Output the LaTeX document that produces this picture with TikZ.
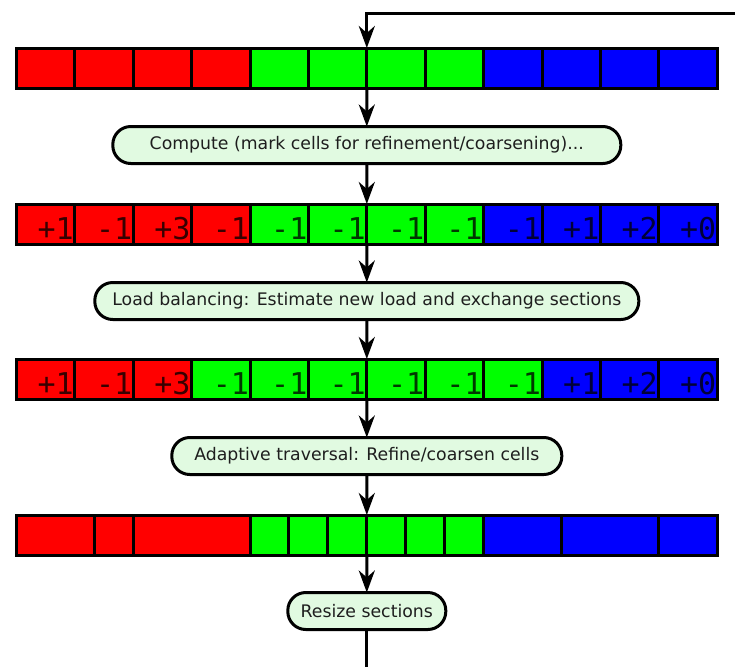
\documentclass[tikz,border=0pt]{standalone}
\usepackage{fontspec}
\setmainfont{DejaVu Sans}
\newfontfamily\cellfont{DejaVu Sans Mono}
\usetikzlibrary{arrows.meta}
\definecolor{pillgreen}{RGB}{225,250,225}
\definecolor{pilltext}{RGB}{30,30,30}
\definecolor{cellred}{RGB}{255,0,0}
\definecolor{cellgreen}{RGB}{0,255,0}
\definecolor{cellblue}{RGB}{0,0,255}
\begin{document}
\begin{tikzpicture}[x=1pt,y=-1pt,
  barframe/.style={draw, line width=3pt, minimum width=700.8pt, minimum height=40pt,
    inner sep=0pt, outer sep=0pt, anchor=north west},
  divider/.style={line width=3pt},
  pill/.style={draw, line width=3pt, rectangle, rounded corners=18pt, fill=pillgreen,
    minimum height=37pt, inner sep=0pt, outer sep=0pt, text=pilltext,
    font=\fontsize{17.3}{19}\selectfont},
  flow/.style={line width=3pt, -{Stealth[length=22pt,width=16pt,inset=7pt]}},
  num/.style={font=\cellfont\fontsize{30}{30}\selectfont, text opacity=0.78,
    anchor=base east, inner sep=0pt}
]
\useasboundingbox (0,0) rectangle (735,667);

% ---- bar 1: four cells per section ----
\begin{scope}[shift={(16.4,48)}, x=58.4pt]
  \fill[cellred]   (0,0) rectangle (4,40);
  \fill[cellgreen] (4,0) rectangle (8,40);
  \fill[cellblue]  (8,0) rectangle (12,40);
  \foreach \i in {1,...,11} \draw[divider] (\i,0) -- (\i,40);
\end{scope}
\node[barframe] (b1) at (16.4,48) {};

% ---- bar 2: refinement marks ----
\begin{scope}[shift={(16.4,204)}, x=58.4pt]
  \fill[cellred]   (0,0) rectangle (4,40);
  \fill[cellgreen] (4,0) rectangle (8,40);
  \fill[cellblue]  (8,0) rectangle (12,40);
  \foreach \i in {1,...,11} \draw[divider] (\i,0) -- (\i,40);
  \foreach \v [count=\i] in {+1,-1,+3,-1,-1,-1,-1,-1,-1,+1,+2,+0}
    \node[num] (m2-\i) at (\i-0.015,35) {\v};
\end{scope}
\node[barframe] (b2) at (16.4,204) {};

% ---- bar 3: after load balancing ----
\begin{scope}[shift={(16.4,359)}, x=58.4pt]
  \fill[cellred]   (0,0) rectangle (3,40);
  \fill[cellgreen] (3,0) rectangle (9,40);
  \fill[cellblue]  (9,0) rectangle (12,40);
  \foreach \i in {1,...,11} \draw[divider] (\i,0) -- (\i,40);
  \foreach \v [count=\i] in {+1,-1,+3,-1,-1,-1,-1,-1,-1,+1,+2,+0}
    \node[num] (m3-\i) at (\i-0.015,35) {\v};
\end{scope}
\node[barframe] (b3) at (16.4,359) {};

% ---- bar 4: refined / coarsened cells ----
\begin{scope}[shift={(16.4,515)}, x=58.4pt]
  \fill[cellred]   (0,0) rectangle (4,40);
  \fill[cellgreen] (4,0) rectangle (8,40);
  \fill[cellblue]  (8,0) rectangle (12,40);
  \foreach \i in {1.3333,2,4,4.6667,5.3333,6,6.6667,7.3333,8,9.3333,11}
    \draw[divider] (\i,0) -- (\i,40);
\end{scope}
\node[barframe] (b4) at (16.4,515) {};

% ---- processing steps ----
\node[pill, minimum width=508pt] (p1) at (366.8,145) {Compute (mark cells for refinement/coarsening)...};
\node[pill, minimum width=544pt] (p2) at (366.8,301) {Load balancing: Estimate new load and exchange sections};
\node[pill, minimum width=390pt] (p3) at (366.8,456) {Adaptive traversal: Refine/coarsen cells};
\node[pill, minimum width=158pt] (p4) at (366.8,611) {Resize sections};

% ---- flow ----
\coordinate (loopin) at (735,13);
\coordinate (loopout) at (366.8,667);
\draw[flow] (loopin) -- (loopin -| b1.north) -- (b1.north);
\draw[flow] (b1.south) -- (p1.north);
\draw[flow] (p1.south) -- (b2.north);
\draw[flow] (b2.south) -- (p2.north);
\draw[flow] (p2.south) -- (b3.north);
\draw[flow] (b3.south) -- (p3.north);
\draw[flow] (p3.south) -- (b4.north);
\draw[flow] (b4.south) -- (p4.north);
\draw[line width=3pt] (p4.south) -- (loopout);
\end{tikzpicture}
\end{document}
